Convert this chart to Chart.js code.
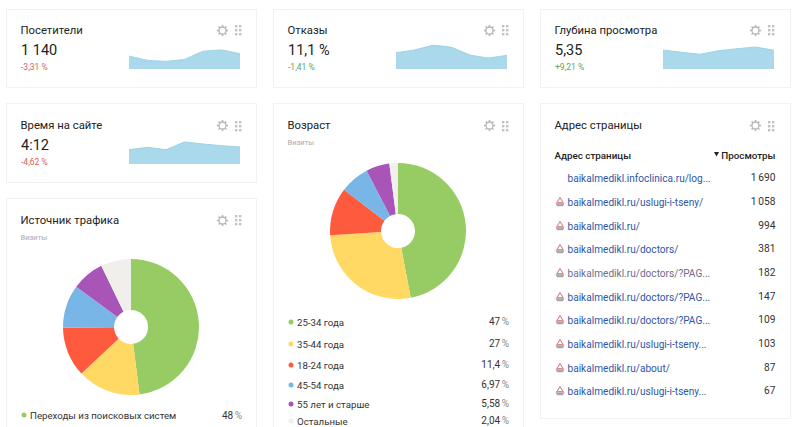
<!DOCTYPE html>
<html lang="ru">
<head>
<meta charset="utf-8">
<title>Сводка</title>
<script src="https://cdn.jsdelivr.net/npm/chart.js@4/dist/chart.umd.min.js"></script>
<style>
html,body{margin:0;padding:0;background:#fff;}
body{width:800px;height:427px;overflow:hidden;position:relative;font-family:Roboto,sans-serif;color:#222;}
.card{position:absolute;box-sizing:border-box;border:1px solid #f2f2f2;background:#fff;}
.t{position:absolute;white-space:nowrap;line-height:1;transform:translateY(calc(-50% + .6px));}
.r{transform:translate(-100%,calc(-50% + .6px));}
.title{font-size:11.3px;color:#222;}
.val{font-size:14.5px;color:#222;}
.delta{font-size:8.5px;}
.sub{font-size:7.5px;color:#aaa;}
.leg{font-size:9.7px;color:#333;}
.pct{font-size:10px;color:#333;word-spacing:-1px;}
.pct span{color:#888;}
.dot{position:absolute;width:5px;height:5px;border-radius:50%;transform:translate(-50%,-50%);}
.head{font-size:9.8px;font-weight:500;color:#222;}
.link{font-size:10.1px;color:#2f56a8;}
.num{font-size:10.2px;color:#333;word-spacing:-.8px;}
canvas{position:absolute;display:block;}
svg{position:absolute;}
</style>
</head>
<body>
<script>
// Daily series behind the small area charts
const dayLabels = ["1", "2", "3", "4", "5", "6", "7"];
const visitorsDaily = [162, 109, 96, 121, 221, 238, 191];
const bounceDaily = [10.6, 12.4, 15.4, 14.1, 9.1, 7.2, 8.9];
const depthDaily = [5.43, 4.77, 4.2, 5.23, 5.8, 6.29, 5.35];
const timeDaily = [206, 240, 206, 317, 288, 264, 245];

// Doughnut breakdowns
const sliceColors = ["#97cc64", "#ffd963", "#fd5a3e", "#77b6e7", "#a955b8", "#f0efec"];
const trafficLabels = ["Переходы из поисковых систем", "Прямые заходы", "Внутренние переходы", "Переходы по ссылкам", "Социальные сети", "Остальные"];
const trafficValues = [48, 15, 11.8, 10.3, 7.7, 7.2];
const ageLabels = ["25-34 года", "35-44 года", "18-24 года", "45-54 года", "55 лет и старше", "Остальные"];
const ageValues = [47, 27, 11.4, 6.97, 5.58, 2.04];
const ageValueText = ["47", "27", "11,4", "6,97", "5,58", "2,04"];

// Page table
const pageUrls = ["baikalmedikl.infoclinica.ru/log...", "baikalmedikl.ru/uslugi-i-tseny/", "baikalmedikl.ru/", "baikalmedikl.ru/doctors/", "baikalmedikl.ru/doctors/?PAG...", "baikalmedikl.ru/doctors/?PAG...", "baikalmedikl.ru/doctors/?PAG...", "baikalmedikl.ru/uslugi-i-tseny...", "baikalmedikl.ru/about/", "baikalmedikl.ru/uslugi-i-tseny..."];
const pageViews = ["1 690", "1 058", "994", "381", "182", "147", "109", "103", "87", "67"];

const add = (cls, left, top, html, color) => {
  const el = document.createElement("div");
  el.className = cls;
  el.style.left = left + "px";
  el.style.top = top + "px";
  if (color) el.style.color = color;
  el.innerHTML = html;
  document.body.appendChild(el);
  return el;
};
const card = (x0, y0, x1, y1) => {
  const el = add("card", x0, y0, "");
  el.style.width = (x1 - x0) + "px";
  el.style.height = (y1 - y0) + "px";
};
const canvasAt = (x, y, w, h) => {
  const c = document.createElement("canvas");
  c.width = w; c.height = h;
  c.style.left = x + "px"; c.style.top = y + "px";
  c.style.width = w + "px"; c.style.height = h + "px";
  document.body.appendChild(c);
  return c;
};

// Settings gear and drag handle in a card's corner
const controls = (gx, gy) => {
  let teeth = "";
  for (let a = 0; a < 8; a++) {
    teeth += `<rect x="4.7" y="-.1" width="1.6" height="2.5" fill="#b8b8b8" transform="rotate(${a * 45} 5.5 5.5)"/>`;
  }
  const gear = `<svg style="left:${gx - 5.5}px;top:${gy - 5.5}px;overflow:visible" width="11" height="11">${teeth}<circle cx="5.5" cy="5.5" r="3.5" fill="#fff" stroke="#b8b8b8" stroke-width="1.3"/></svg>`;
  let dots = "";
  for (const dx of [0, 4]) for (const dy of [0, 4, 8]) {
    dots += `<rect x="${dx}" y="${dy}" width="2.4" height="2.4" fill="#c2c2c2"/>`;
  }
  const grip = `<svg style="left:${gx + 12.8}px;top:${gy - 5}px" width="7" height="11">${dots}</svg>`;
  document.body.insertAdjacentHTML("beforeend", gear + grip);
};

// Filled area chart without axes
const spark = (x, y, w, h, values, yMax, tension) => new Chart(canvasAt(x, y, w, h), {
  type: "line",
  data: { labels: dayLabels, datasets: [{ data: values, fill: "origin", tension,
    backgroundColor: "#a9d9eb", borderColor: "#9dd2e6", borderWidth: 1, pointRadius: 0 }] },
  options: { responsive: false, animation: false, events: [],
    layout: { padding: 0 },
    plugins: { legend: { display: false }, tooltip: { enabled: false } },
    scales: { x: { display: false, offset: false }, y: { display: false, min: 0, max: yMax } } }
});

const pie = (cx, cy, values, labels) => new Chart(canvasAt(cx - 70, cy - 70, 140, 140), {
  type: "doughnut",
  data: { labels, datasets: [{ data: values, backgroundColor: sliceColors, borderWidth: 0 }] },
  options: { responsive: false, animation: false, events: [], cutout: "25%",
    layout: { padding: 2 },
    plugins: { legend: { display: false }, tooltip: { enabled: false } } }
});

// Cards
card(5.5, 8.5, 256.5, 87.5);
card(272.5, 8.5, 523.5, 87.5);
card(539.5, 8.5, 790.5, 87.5);
card(5.5, 102.5, 256.5, 182.5);
card(272.5, 102.5, 523.5, 460);
card(539.5, 102.5, 790.5, 418.5);
card(5.5, 197.5, 256.5, 460);

// Metric tiles
const RED = "#dc5c5c", GREEN = "#55a868";
add("t title", 20.5, 30, "Посетители");
add("t val", 21, 51, "1 140");
add("t delta", 21, 66.5, "-3,31 %", RED);
spark(129, 39, 111, 30, visitorsDaily, 375, 0.08);
controls(222, 30);

add("t title", 287.5, 30, "Отказы");
add("t val", 288, 51, "11,1 %");
add("t delta", 288, 66.5, "-1,41 %", GREEN);
spark(396, 39, 111, 30, bounceDaily, 19.5, 0.08);
controls(489, 30);

add("t title", 554.5, 30, "Глубина просмотра");
add("t val", 555, 51, "5,35");
add("t delta", 555, 66.5, "+9,21 %", GREEN);
spark(663, 39, 111, 30, depthDaily, 8.58, 0);
controls(755.5, 30);

add("t title", 20.5, 125, "Время на сайте");
add("t val", 21, 146, "4:12");
add("t delta", 21, 161.5, "-4,62 %", RED);
spark(129, 134, 111, 30, timeDaily, 432, 0);
controls(222, 125.5);

// Age breakdown
add("t title", 287.5, 125, "Возраст");
add("t sub", 287.5, 141.5, "Визиты");
controls(489, 125.5);
pie(398.3, 231.3, ageValues, ageLabels);
const ageRowY = [322, 343.5, 365, 385, 403.5, 421];
ageLabels.forEach((label, i) => {
  add("dot", 290.5, ageRowY[i], "").style.background = sliceColors[i];
  add("t leg", 297, ageRowY[i], label);
  add("t r pct", 509, ageRowY[i] - 1, `${ageValueText[i]} <span>%</span>`);
});

// Traffic source breakdown
add("t title", 20.5, 219.5, "Источник трафика");
add("t sub", 20.5, 236.5, "Визиты");
controls(222, 220);
pie(131.3, 326.7, trafficValues, trafficLabels);
add("dot", 23.5, 415, "").style.background = sliceColors[0];
add("t leg", 30, 415, trafficLabels[0]);
add("t r pct", 242, 415, `${trafficValues[0]} <span>%</span>`);

// Pages table
add("t title", 554.5, 125, "Адрес страницы");
controls(755.5, 125.5);
add("t head", 554.5, 155, "Адрес страницы");
add("t r head", 775.5, 155, "Просмотры");
document.body.insertAdjacentHTML("beforeend",
  `<svg style="left:714px;top:152px" width="6" height="5"><path d="M0 0H5L2.5 4.5Z" fill="#222"/></svg>`);
const boat = (x, y) => document.body.insertAdjacentHTML("beforeend",
  `<svg style="left:${x}px;top:${y}px" width="10" height="10"><path d="M5 .5L8 5.5H2Z" fill="#fff" stroke="#d98a8a" stroke-width="1.1"/><path d="M.5 6.3H9.5L8 9.2H2Z" fill="#a9a4ad"/></svg>`);
const rowY = [178, 202, 226, 249, 273, 297, 320, 344, 368, 391];
pageUrls.forEach((url, i) => {
  if (i > 0) boat(555, rowY[i] - 5);
  add("t link", 567.5, rowY[i], url, i === 4 ? "#6f6c8c" : null);
  add("t r num", 775.5, rowY[i], pageViews[i]);
});
</script>
</body>
</html>
